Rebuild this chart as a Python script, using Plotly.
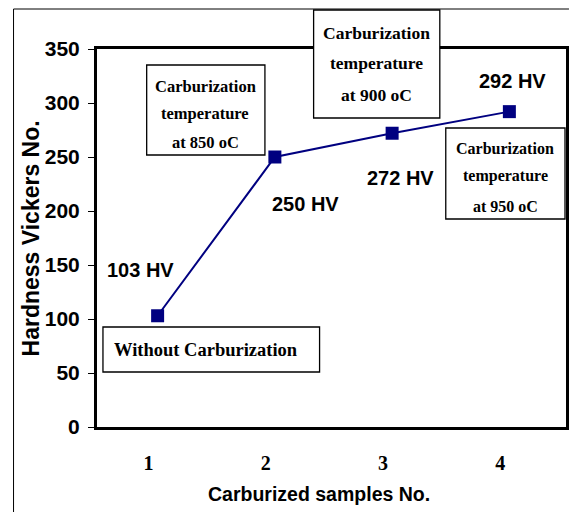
import plotly.graph_objects as go

samples = [1, 2, 3, 4]
hardness = [103, 250, 272, 292]
value_labels = ["103 HV", "250 HV", "272 HV", "292 HV"]
y_ticks = [0, 50, 100, 150, 200, 250, 300, 350]
x_ticks = ["1", "2", "3", "4"]
box_texts = [
    ["Without Carburization"],
    ["Carburization", "temperature", "at 850 oC"],
    ["Carburization", "temperature", "at 900 oC"],
    ["Carburization", "temperature", "at 950 oC"],
]

W, H = 571, 512
L, R, T, B = 97, 569, 49, 427


def px(x):
    return (x - L) / (R - L)


def py(y):
    return (B - y) / (B - T)


NAVY = "#000080"
SANS = "Liberation Sans, Arial, sans-serif"
SERIF = "Liberation Serif, Times New Roman, serif"

fig = go.Figure()
fig.add_trace(go.Scatter(
    x=samples, y=hardness, mode="lines+markers",
    line=dict(color=NAVY, width=2),
    marker=dict(symbol="square", size=13, color=NAVY),
    showlegend=False, cliponaxis=False,
))

annotations = []
# value labels, offset from their points
offsets = [(-17, 46), (31, -47), (8, -45), (3, 31)]
for xv, yv, lab, (dx, dy) in zip(samples, hardness, value_labels, offsets):
    annotations.append(dict(
        x=xv, y=yv, xref="x", yref="y", text="<b>%s</b>" % lab, showarrow=False,
        xshift=dx, yshift=dy, font=dict(family=SANS, size=20, color="black"),
    ))

shapes = []
# boxes: (x0, y0, x1, y1) pixels, text center x, line y centers, font size
boxes = [
    ((103, 327, 321, 372), 207, [350], 18.5),
    ((147, 65, 266, 155), 206, [86, 113, 142], 16.5),
    ((315, 10, 442, 118), 378, [33, 63, 95], 17.5),
    ((448, 128, 568, 219), 508, [148, 176, 206], 16),
]
for (x0, y0, x1, y1), cx, ys, fs in boxes:
    shapes.append(dict(
        type="rect", xref="paper", yref="paper",
        x0=px(x0), x1=px(x1), y0=py(y1), y1=py(y0),
        line=dict(color="black", width=1.3), fillcolor="white", layer="above",
    ))
for ((x0, y0, x1, y1), cx, ys, fs), lines in zip(boxes, box_texts):
    for yy, txt in zip(ys, lines):
        annotations.append(dict(
            x=px(cx), y=py(yy), xref="paper", yref="paper", text="<b>%s</b>" % txt,
            showarrow=False, xanchor="center", yanchor="middle",
            font=dict(family=SERIF, size=fs, color="black"),
        ))

# outer chart frame (top and left edges)
shapes.append(dict(type="line", xref="paper", yref="paper",
                   x0=px(13), x1=px(572), y0=py(9), y1=py(9),
                   line=dict(color="black", width=1), layer="above"))
shapes.append(dict(type="line", xref="paper", yref="paper",
                   x0=px(13), x1=px(13), y0=py(9), y1=py(513),
                   line=dict(color="black", width=1), layer="above"))

# y axis title
annotations.append(dict(
    x=px(31), y=py(238), xref="paper", yref="paper", text="<b>Hardness Vickers No.</b>",
    showarrow=False, textangle=-90, xanchor="center", yanchor="middle",
    font=dict(family=SANS, size=23, color="black"),
))
# x axis title
annotations.append(dict(
    x=px(320), y=py(494), xref="paper", yref="paper", text="<b>Carburized samples No.</b>",
    showarrow=False, xanchor="center", yanchor="middle",
    font=dict(family=SANS, size=19.5, color="black"),
))

fig.update_layout(
    width=W, height=H,
    margin=dict(l=L, r=W - R, t=T, b=H - B, pad=0),
    paper_bgcolor="white", plot_bgcolor="white",
    shapes=shapes, annotations=annotations,
    xaxis=dict(
        range=[0.483, 4.483], tickmode="array", tickvals=samples,
        ticktext=["<b>%s</b>" % t for t in x_ticks],
        tickfont=dict(family=SERIF, size=20, color="black"),
        showgrid=False, zeroline=False, showline=True, linecolor="black",
        linewidth=3, mirror=True, ticks="", ticklabelshift=-9, ticklabelstandoff=16,
    ),
    yaxis=dict(
        range=[0, 350], tickmode="array", tickvals=y_ticks,
        ticktext=["<b>%d</b>" % v for v in y_ticks],
        tickfont=dict(family=SANS, size=21, color="black"),
        showgrid=False, zeroline=False, showline=True, linecolor="black",
        linewidth=3, mirror=True, ticks="outside", ticklen=6, tickwidth=1,
        tickcolor="black", ticklabelstandoff=4,
    ),
)

fig.write_html("out.html", config={"displayModeBar": False},
               post_script="document.body.style.margin='0';document.body.style.overflow='hidden';")
